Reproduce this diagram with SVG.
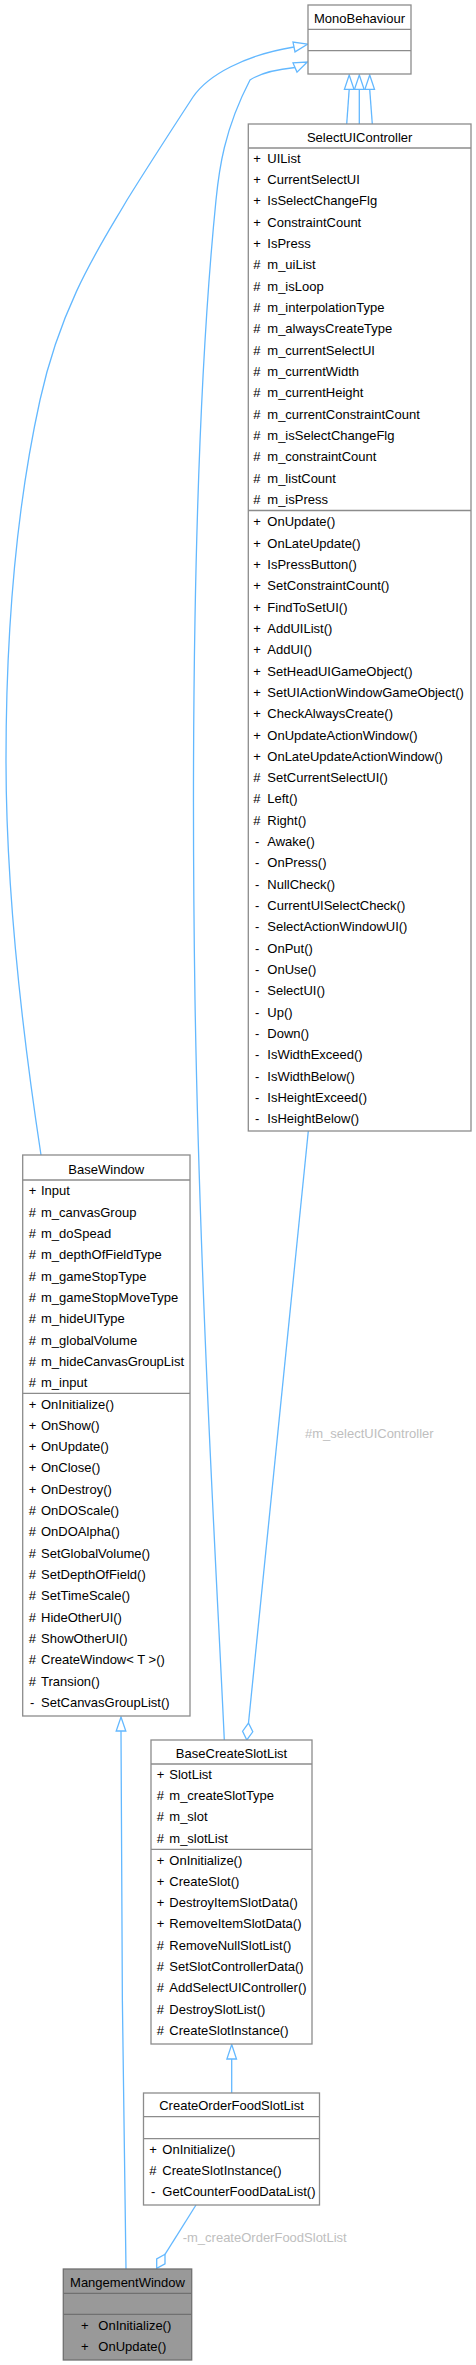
<svg xmlns="http://www.w3.org/2000/svg" width="476" height="2365" viewBox="0 0 476 2365">
<style>
.box{fill:#fff;stroke:#8c8c8c;stroke-width:1.3}
.boxg{fill:#999;stroke:#707070;stroke-width:1.3}
.dv{stroke:#8c8c8c;stroke-width:1.3}
.dvg{stroke:#707070;stroke-width:1.3}
.t{font-family:"Liberation Sans",Arial,sans-serif;font-size:13px;fill:#000}
.c{text-anchor:middle}
.e{fill:none;stroke:#63b8ff;stroke-width:1.3}
.ah{fill:#fff;stroke:#63b8ff;stroke-width:1.3}
.lb{font-family:"Liberation Sans",Arial,sans-serif;font-size:13px;fill:#bebebe}
</style>
<rect width="476" height="2365" fill="#fff"/>
<g id="connectors">
  <!-- SelectUIController -> MonoBehaviour (x3) -->
  <path class="e" d="M346.7,124 L349.2,89.3"/>
  <polygon class="ah" points="349.2,75 354,89.3 344.4,89.3"/>
  <path class="e" d="M359.3,124 L359.3,89.3"/>
  <polygon class="ah" points="359.3,75 364.1,89.3 354.5,89.3"/>
  <path class="e" d="M372.3,124 L369.7,89.3"/>
  <polygon class="ah" points="369.7,75 374.5,89.3 364.9,89.3"/>
  <!-- BaseWindow -> MonoBehaviour -->
  <path class="e" d="M41,1155 C25,1050 6,900 6,760 C6,620 18,500 40,400 C62,300 104,240 127,200 C150,163 178,120 193,97 C208,75 245,55 294,47"/>
  <polygon class="ah" points="307.5,44.2 295,51.9 293,42.1"/>
  <!-- BaseCreateSlotList -> MonoBehaviour -->
  <path class="e" d="M224.3,1740 C218,1600 200,1300 195,1000 C192,800 191,450 216,200 C219,170 224,130 250,80 C262,72 280,69 295,67.5"/>
  <polygon class="ah" points="307.3,62 297,72.1 293,62.9"/>
  <!-- SelectUIController -> BaseCreateSlotList (aggregation) -->
  <path class="e" d="M308.3,1131 L248.5,1723"/>
  <polygon class="ah" points="248.5,1723 252.8,1731.8 246.8,1740 242.6,1731.2"/>
  <text class="lb" x="305" y="1438">#m_selectUIController</text>
  <!-- BaseWindow -> MangementWindow -->
  <path class="e" d="M121,1731 C121,1900 123,2100 126,2269"/>
  <polygon class="ah" points="121,1717 125.8,1731 116.2,1731"/>
  <!-- CreateOrderFoodSlotList -> BaseCreateSlotList -->
  <path class="e" d="M231.7,2093 L231.7,2059"/>
  <polygon class="ah" points="231.7,2044.5 236.5,2059 226.9,2059"/>
  <!-- CreateOrderFoodSlotList -> MangementWindow (aggregation) -->
  <path class="e" d="M196,2205 L165,2254.3"/>
  <polygon class="ah" points="165,2254.3 165,2263.8 156.7,2268.3 156.7,2258.9"/>
  <text class="lb" x="182.7" y="2241.8">-m_createOrderFoodSlotList</text>
</g>
<g id="MonoBehaviour">
  <rect class="box" x="308" y="5" width="103" height="69"/>
  <line class="dv" x1="308" y1="29.3" x2="411" y2="29.3"/>
  <line class="dv" x1="308" y1="50.7" x2="411" y2="50.7"/>
  <text class="t c" x="359.5" y="22.5">MonoBehaviour</text>
</g>
<g id="SelectUIController">
  <rect class="box" x="248.3" y="124" width="222.7" height="1007"/>
  <line class="dv" x1="248.3" y1="148" x2="471" y2="148"/>
  <line class="dv" x1="248.3" y1="510.5" x2="471" y2="510.5"/>
  <text class="t c" x="359.7" y="141.5">SelectUIController</text>
  <text class="t" y="162.8">
    <tspan x="253.3">+</tspan><tspan x="267.3">UIList</tspan>
    <tspan x="253.3" dy="21.33">+</tspan><tspan x="267.3">CurrentSelectUI</tspan>
    <tspan x="253.3" dy="21.33">+</tspan><tspan x="267.3">IsSelectChangeFlg</tspan>
    <tspan x="253.3" dy="21.33">+</tspan><tspan x="267.3">ConstraintCount</tspan>
    <tspan x="253.3" dy="21.33">+</tspan><tspan x="267.3">IsPress</tspan>
    <tspan x="253.3" dy="21.33">#</tspan><tspan x="267.3">m_uiList</tspan>
    <tspan x="253.3" dy="21.33">#</tspan><tspan x="267.3">m_isLoop</tspan>
    <tspan x="253.3" dy="21.33">#</tspan><tspan x="267.3">m_interpolationType</tspan>
    <tspan x="253.3" dy="21.33">#</tspan><tspan x="267.3">m_alwaysCreateType</tspan>
    <tspan x="253.3" dy="21.33">#</tspan><tspan x="267.3">m_currentSelectUI</tspan>
    <tspan x="253.3" dy="21.33">#</tspan><tspan x="267.3">m_currentWidth</tspan>
    <tspan x="253.3" dy="21.33">#</tspan><tspan x="267.3">m_currentHeight</tspan>
    <tspan x="253.3" dy="21.33">#</tspan><tspan x="267.3">m_currentConstraintCount</tspan>
    <tspan x="253.3" dy="21.33">#</tspan><tspan x="267.3">m_isSelectChangeFlg</tspan>
    <tspan x="253.3" dy="21.33">#</tspan><tspan x="267.3">m_constraintCount</tspan>
    <tspan x="253.3" dy="21.33">#</tspan><tspan x="267.3">m_listCount</tspan>
    <tspan x="253.3" dy="21.33">#</tspan><tspan x="267.3">m_isPress</tspan>
  </text>
  <text class="t" y="526.2">
    <tspan x="253.3">+</tspan><tspan x="267.3">OnUpdate()</tspan>
    <tspan x="253.3" dy="21.33">+</tspan><tspan x="267.3">OnLateUpdate()</tspan>
    <tspan x="253.3" dy="21.33">+</tspan><tspan x="267.3">IsPressButton()</tspan>
    <tspan x="253.3" dy="21.33">+</tspan><tspan x="267.3">SetConstraintCount()</tspan>
    <tspan x="253.3" dy="21.33">+</tspan><tspan x="267.3">FindToSetUI()</tspan>
    <tspan x="253.3" dy="21.33">+</tspan><tspan x="267.3">AddUIList()</tspan>
    <tspan x="253.3" dy="21.33">+</tspan><tspan x="267.3">AddUI()</tspan>
    <tspan x="253.3" dy="21.33">+</tspan><tspan x="267.3">SetHeadUIGameObject()</tspan>
    <tspan x="253.3" dy="21.33">+</tspan><tspan x="267.3">SetUIActionWindowGameObject()</tspan>
    <tspan x="253.3" dy="21.33">+</tspan><tspan x="267.3">CheckAlwaysCreate()</tspan>
    <tspan x="253.3" dy="21.33">+</tspan><tspan x="267.3">OnUpdateActionWindow()</tspan>
    <tspan x="253.3" dy="21.33">+</tspan><tspan x="267.3">OnLateUpdateActionWindow()</tspan>
    <tspan x="253.3" dy="21.33">#</tspan><tspan x="267.3">SetCurrentSelectUI()</tspan>
    <tspan x="253.3" dy="21.33">#</tspan><tspan x="267.3">Left()</tspan>
    <tspan x="253.3" dy="21.33">#</tspan><tspan x="267.3">Right()</tspan>
    <tspan x="255" dy="21.33">-</tspan><tspan x="267.3">Awake()</tspan>
    <tspan x="255" dy="21.33">-</tspan><tspan x="267.3">OnPress()</tspan>
    <tspan x="255" dy="21.33">-</tspan><tspan x="267.3">NullCheck()</tspan>
    <tspan x="255" dy="21.33">-</tspan><tspan x="267.3">CurrentUISelectCheck()</tspan>
    <tspan x="255" dy="21.33">-</tspan><tspan x="267.3">SelectActionWindowUI()</tspan>
    <tspan x="255" dy="21.33">-</tspan><tspan x="267.3">OnPut()</tspan>
    <tspan x="255" dy="21.33">-</tspan><tspan x="267.3">OnUse()</tspan>
    <tspan x="255" dy="21.33">-</tspan><tspan x="267.3">SelectUI()</tspan>
    <tspan x="255" dy="21.33">-</tspan><tspan x="267.3">Up()</tspan>
    <tspan x="255" dy="21.33">-</tspan><tspan x="267.3">Down()</tspan>
    <tspan x="255" dy="21.33">-</tspan><tspan x="267.3">IsWidthExceed()</tspan>
    <tspan x="255" dy="21.33">-</tspan><tspan x="267.3">IsWidthBelow()</tspan>
    <tspan x="255" dy="21.33">-</tspan><tspan x="267.3">IsHeightExceed()</tspan>
    <tspan x="255" dy="21.33">-</tspan><tspan x="267.3">IsHeightBelow()</tspan>
  </text>
</g>
<g id="BaseWindow">
  <rect class="box" x="22.7" y="1155" width="167.3" height="561"/>
  <line class="dv" x1="22.7" y1="1180" x2="190" y2="1180"/>
  <line class="dv" x1="22.7" y1="1393.3" x2="190" y2="1393.3"/>
  <text class="t c" x="106.3" y="1173.5">BaseWindow</text>
  <text class="t" y="1195.2">
    <tspan x="28.7">+</tspan><tspan x="41">Input</tspan>
    <tspan x="28.7" dy="21.33">#</tspan><tspan x="41">m_canvasGroup</tspan>
    <tspan x="28.7" dy="21.33">#</tspan><tspan x="41">m_doSpead</tspan>
    <tspan x="28.7" dy="21.33">#</tspan><tspan x="41">m_depthOfFieldType</tspan>
    <tspan x="28.7" dy="21.33">#</tspan><tspan x="41">m_gameStopType</tspan>
    <tspan x="28.7" dy="21.33">#</tspan><tspan x="41">m_gameStopMoveType</tspan>
    <tspan x="28.7" dy="21.33">#</tspan><tspan x="41">m_hideUIType</tspan>
    <tspan x="28.7" dy="21.33">#</tspan><tspan x="41">m_globalVolume</tspan>
    <tspan x="28.7" dy="21.33">#</tspan><tspan x="41">m_hideCanvasGroupList</tspan>
    <tspan x="28.7" dy="21.33">#</tspan><tspan x="41">m_input</tspan>
  </text>
  <text class="t" y="1408.5">
    <tspan x="28.7">+</tspan><tspan x="41">OnInitialize()</tspan>
    <tspan x="28.7" dy="21.33">+</tspan><tspan x="41">OnShow()</tspan>
    <tspan x="28.7" dy="21.33">+</tspan><tspan x="41">OnUpdate()</tspan>
    <tspan x="28.7" dy="21.33">+</tspan><tspan x="41">OnClose()</tspan>
    <tspan x="28.7" dy="21.33">+</tspan><tspan x="41">OnDestroy()</tspan>
    <tspan x="28.7" dy="21.33">#</tspan><tspan x="41">OnDOScale()</tspan>
    <tspan x="28.7" dy="21.33">#</tspan><tspan x="41">OnDOAlpha()</tspan>
    <tspan x="28.7" dy="21.33">#</tspan><tspan x="41">SetGlobalVolume()</tspan>
    <tspan x="28.7" dy="21.33">#</tspan><tspan x="41">SetDepthOfField()</tspan>
    <tspan x="28.7" dy="21.33">#</tspan><tspan x="41">SetTimeScale()</tspan>
    <tspan x="28.7" dy="21.33">#</tspan><tspan x="41">HideOtherUI()</tspan>
    <tspan x="28.7" dy="21.33">#</tspan><tspan x="41">ShowOtherUI()</tspan>
    <tspan x="28.7" dy="21.33">#</tspan><tspan x="41">CreateWindow&lt; T &gt;()</tspan>
    <tspan x="28.7" dy="21.33">#</tspan><tspan x="41">Transion()</tspan>
    <tspan x="30" dy="21.33">-</tspan><tspan x="41">SetCanvasGroupList()</tspan>
  </text>
</g>
<g id="BaseCreateSlotList">
  <rect class="box" x="151" y="1740" width="161" height="304"/>
  <line class="dv" x1="151" y1="1764" x2="312" y2="1764"/>
  <line class="dv" x1="151" y1="1849.3" x2="312" y2="1849.3"/>
  <text class="t c" x="231.5" y="1757.8">BaseCreateSlotList</text>
  <text class="t" y="1778.8">
    <tspan x="156.7">+</tspan><tspan x="169.3">SlotList</tspan>
    <tspan x="156.7" dy="21.33">#</tspan><tspan x="169.3">m_createSlotType</tspan>
    <tspan x="156.7" dy="21.33">#</tspan><tspan x="169.3">m_slot</tspan>
    <tspan x="156.7" dy="21.33">#</tspan><tspan x="169.3">m_slotList</tspan>
  </text>
  <text class="t" y="1864.5">
    <tspan x="156.7">+</tspan><tspan x="169.3">OnInitialize()</tspan>
    <tspan x="156.7" dy="21.33">+</tspan><tspan x="169.3">CreateSlot()</tspan>
    <tspan x="156.7" dy="21.33">+</tspan><tspan x="169.3">DestroyItemSlotData()</tspan>
    <tspan x="156.7" dy="21.33">+</tspan><tspan x="169.3">RemoveItemSlotData()</tspan>
    <tspan x="156.7" dy="21.33">#</tspan><tspan x="169.3">RemoveNullSlotList()</tspan>
    <tspan x="156.7" dy="21.33">#</tspan><tspan x="169.3">SetSlotControllerData()</tspan>
    <tspan x="156.7" dy="21.33">#</tspan><tspan x="169.3">AddSelectUIController()</tspan>
    <tspan x="156.7" dy="21.33">#</tspan><tspan x="169.3">DestroySlotList()</tspan>
    <tspan x="156.7" dy="21.33">#</tspan><tspan x="169.3">CreateSlotInstance()</tspan>
  </text>
</g>
<g id="CreateOrderFoodSlotList">
  <rect class="box" x="143.5" y="2093" width="176" height="112"/>
  <line class="dv" x1="143.5" y1="2116.7" x2="319.5" y2="2116.7"/>
  <line class="dv" x1="143.5" y1="2138.7" x2="319.5" y2="2138.7"/>
  <text class="t c" x="231.5" y="2110.2">CreateOrderFoodSlotList</text>
  <text class="t" y="2153.8">
    <tspan x="149.3">+</tspan><tspan x="162.3">OnInitialize()</tspan>
    <tspan x="149.3" dy="21.33">#</tspan><tspan x="162.3">CreateSlotInstance()</tspan>
    <tspan x="151" dy="21.33">-</tspan><tspan x="162.3">GetCounterFoodDataList()</tspan>
  </text>
</g>
<g id="MangementWindow">
  <rect class="boxg" x="63.3" y="2269" width="128.4" height="91"/>
  <line class="dvg" x1="63.3" y1="2293.3" x2="191.7" y2="2293.3"/>
  <line class="dvg" x1="63.3" y1="2314.3" x2="191.7" y2="2314.3"/>
  <text class="t c" x="127.5" y="2286.8">MangementWindow</text>
  <text class="t" y="2330.2">
    <tspan x="81">+</tspan><tspan x="98.3">OnInitialize()</tspan>
    <tspan x="81" dy="21">+</tspan><tspan x="98.3">OnUpdate()</tspan>
  </text>
</g>
</svg>
